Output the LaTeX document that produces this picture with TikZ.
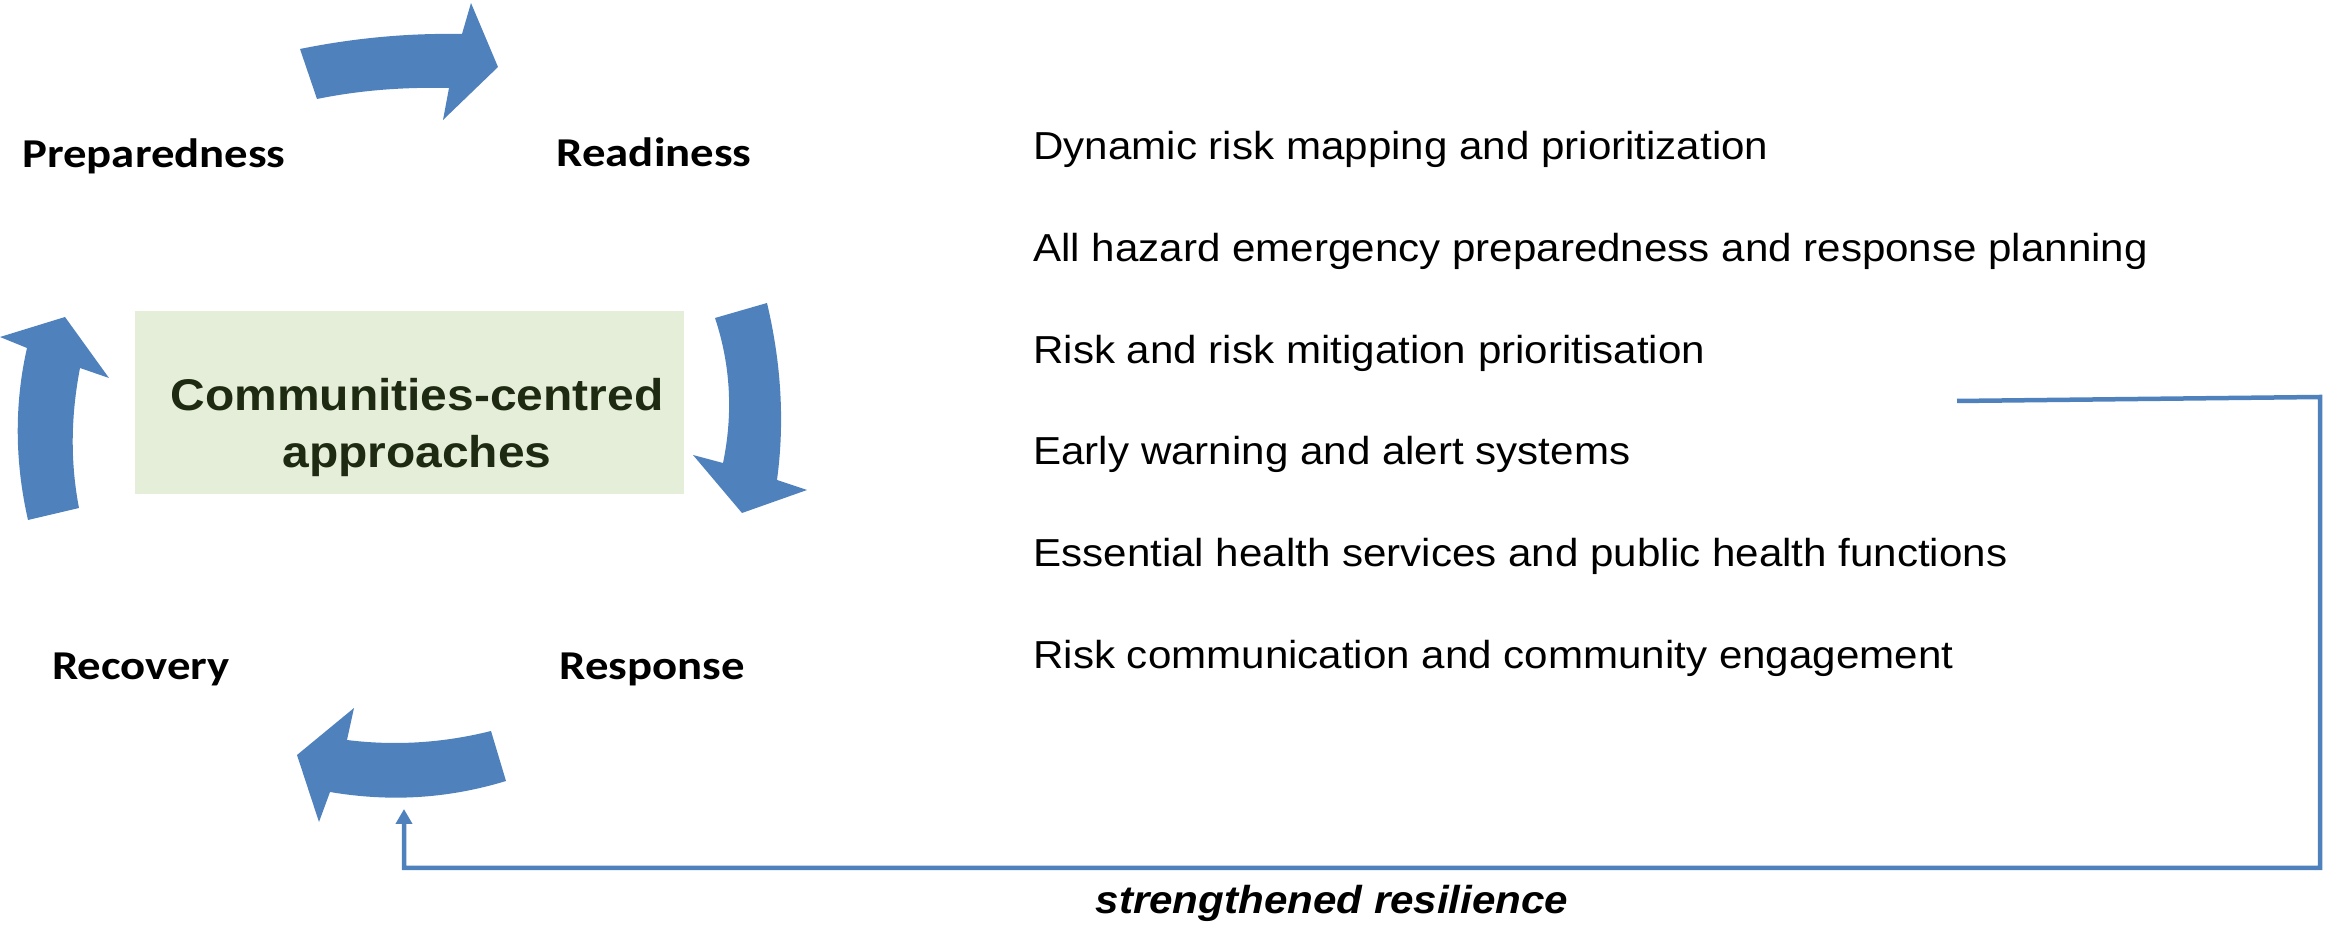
\documentclass[tikz,border=0pt]{standalone}
\usepackage{fontspec}
\usetikzlibrary{arrows.meta}
\newfontfamily\calfont[FakeStretch=1.14]{Carlito}
\newfontfamily\arfont[FakeStretch=1.08]{Liberation Sans}
\definecolor{arrowblue}{HTML}{4F81BD}
\definecolor{boxgreen}{HTML}{E5EED9}
\definecolor{boxtext}{HTML}{1F2A12}
\begin{document}
\begin{tikzpicture}[x=0.5pt,y=-0.5pt,
  cyc/.style={fill=arrowblue, draw=none},
  phase/.style={anchor=base, inner sep=0pt, font=\calfont\bfseries\fontsize{20.5}{24}\selectfont},
  item/.style={anchor=base west, inner sep=0pt, font=\arfont\fontsize{19.5}{23}\selectfont},
  link/.style={draw=arrowblue, line width=2.25pt},
]
\useasboundingbox (0,0) rectangle (2326,929);

% central box
\node[fill=boxgreen, minimum width=274.5pt, minimum height=91.5pt, inner sep=0pt] (box) at (409.5,402.5) {};
\node[anchor=base, inner sep=0pt, align=center, text=boxtext,
      font=\arfont\bfseries\fontsize{22.2}{28.5}\selectfont] (boxtxt) at (417,468) {Communities-centred\\approaches};

% cycle arrows
\fill[cyc] (300,49) .. controls (354,38) and (408,33) .. (462,34) -- (471,3) -- (498,67) -- (443,120) -- (449,88) .. controls (405,87) and (361,90) .. (317,99) -- cycle;
\fill[cyc] (715,318) -- (767,303) .. controls (781,362) and (785,421) .. (777,480) -- (807,490) -- (742,513) -- (693,455) -- (723,463) .. controls (733,415) and (731,366) .. (715,318) -- cycle;
\fill[cyc] (491,731) -- (506,781) .. controls (447,799) and (389,802) .. (330,792) -- (319,822) -- (297,755) -- (354,708) -- (347,740) .. controls (395,746) and (443,743) .. (491,731) -- cycle;
\fill[cyc] (79,508) -- (28,520) .. controls (15,463) and (14,405) .. (27,348) -- (0,337) -- (65,317) -- (109,378) -- (80,368) .. controls (71,415) and (70,461) .. (79,508) -- cycle;

% phase labels
\node[phase] (prep) at (154,168) {Preparedness};
\node[phase] (read) at (654,167) {Readiness};
\node[phase] (recov) at (141,680) {Recovery};
\node[phase] (resp) at (652,680) {Response};

% list
\node[item] (i1) at (1033,160) {Dynamic risk mapping and prioritization};
\node[item] (i2) at (1033,262) {All hazard emergency preparedness and response planning};
\node[item] (i3) at (1033,364) {Risk and risk mitigation prioritisation};
\node[item] (i4) at (1033,465) {Early warning and alert systems};
\node[item] (i5) at (1033,567) {Essential health services and public health functions};
\node[item] (i6) at (1033,669) {Risk communication and community engagement};

% feedback connector
\coordinate (cstart) at (1957,401);
\coordinate (ctip) at (404,809);
\draw[link, -{Triangle[width=8pt,length=7.5pt]}] (cstart) -- (2320,397) -- (2320,868) -- (404,868) -- (ctip);
\node[anchor=base, inner sep=0pt, font=\arfont\bfseries\itshape\fontsize{19.5}{23}\selectfont] (resil) at (1332,914) {strengthened resilience};
\end{tikzpicture}
\end{document}
